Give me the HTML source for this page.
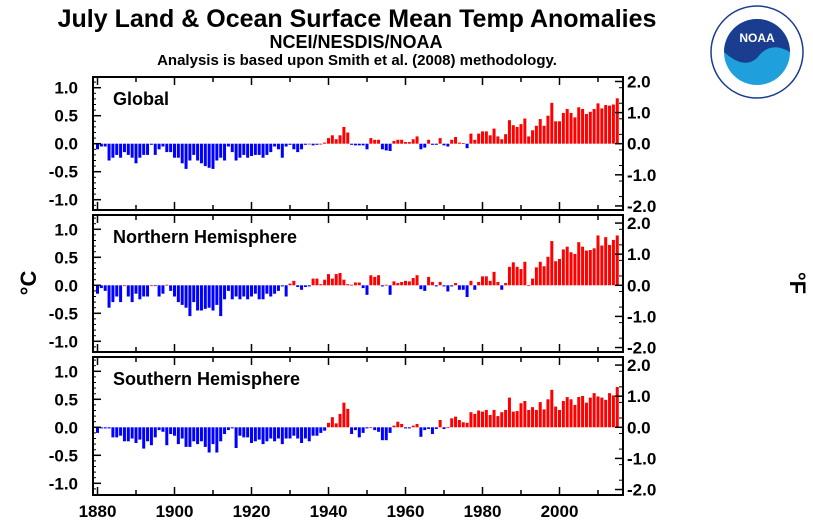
<!DOCTYPE html>
<html><head><meta charset="utf-8"><style>
body{margin:0;background:#fff;width:813px;height:525px;overflow:hidden}
svg{display:block;font-family:"Liberation Sans",sans-serif;font-weight:bold}
</style></head><body>
<svg id="chart" width="813" height="525">
<text x="357" y="27" font-size="25" text-anchor="middle">July Land &amp; Ocean Surface Mean Temp Anomalies</text>
<text x="356" y="48" font-size="18" text-anchor="middle">NCEI/NESDIS/NOAA</text>
<text x="357" y="65" font-size="15" text-anchor="middle">Analysis is based upon Smith et al. (2008) methodology.</text>
<text x="36" y="283" font-size="22" text-anchor="middle" transform="rotate(-90 36 283)">°C</text>
<text x="790" y="283" font-size="22" text-anchor="middle" transform="rotate(90 790 283)">°F</text>
<g>
<circle cx="757" cy="52" r="46" fill="#fff" stroke="#1a3d8f" stroke-width="1.5"/>
<circle cx="757" cy="52" r="33" fill="#1fa0dc"/>
<path d="M724,52 A33,33 0 0 1 790,52 Q770,40 757,58 Q744,70 724,52Z" fill="#1a3d8f"/>
<text x="757" y="42" font-size="12" fill="#fff" text-anchor="middle">NOAA</text>
</g>
<g id="panels"></g>
<g id="xlabels"></g>
</svg>
<script>
const years = [];
for (let y = 1880; y <= 2015; y++) years.push(y);
const globalVals = [-0.1,-0.05,-0.05,-0.3,-0.25,-0.2,-0.25,-0.15,-0.2,-0.25,
-0.35,-0.25,-0.2,-0.2,-0.02,-0.2,-0.1,-0.05,-0.15,-0.15,
-0.25,-0.25,-0.35,-0.45,-0.3,-0.2,-0.3,-0.35,-0.4,-0.43,
-0.45,-0.3,-0.25,-0.3,-0.05,-0.15,-0.3,-0.25,-0.2,-0.25,
-0.22,-0.2,-0.2,-0.25,-0.2,-0.15,-0.05,-0.1,-0.25,-0.05,
-0.02,-0.1,-0.15,-0.1,-0.02,0.0,-0.03,-0.02,
0.0,0.02,0.1,0.15,0.08,0.15,0.3,0.2,-0.02,-0.03,
-0.03,-0.03,-0.1,0.1,0.07,0.07,-0.1,-0.12,-0.13,0.05,
0.07,0.07,0.03,0.03,0.08,0.13,-0.1,-0.07,0.07,-0.02,
-0.02,0.1,-0.03,-0.05,0.07,0.12,0.02,0.01,-0.08,0.18,
0.07,0.18,0.22,0.22,0.15,0.27,0.13,0.08,0.17,0.42,
0.33,0.3,0.35,0.45,0.13,0.24,0.32,0.44,0.32,0.5,
0.73,0.4,0.4,0.55,0.62,0.55,0.47,0.65,0.62,0.53,
0.57,0.62,0.72,0.63,0.69,0.68,0.7,0.81];
const nhVals = [-0.15,-0.05,-0.1,-0.4,-0.3,-0.2,-0.3,0.0,-0.2,-0.3,
-0.15,-0.25,-0.2,-0.2,0.0,-0.01,-0.2,-0.15,0.01,-0.1,
-0.2,-0.3,-0.35,-0.4,-0.55,-0.3,-0.45,-0.45,-0.42,-0.4,
-0.45,-0.35,-0.55,-0.25,-0.1,-0.25,-0.2,-0.25,-0.2,-0.25,
-0.2,-0.15,-0.25,-0.25,-0.15,-0.2,-0.15,-0.1,-0.02,-0.2,
0.03,0.08,-0.03,-0.08,-0.03,-0.02,0.12,0.12,0.02,0.1,
0.2,0.12,0.2,0.22,0.1,0.02,0.01,0.05,
0.05,-0.05,-0.17,0.18,0.15,0.18,-0.02,0.01,-0.17,0.07,
0.04,0.06,0.08,0.07,0.13,0.18,-0.07,-0.1,0.15,0.06,
-0.02,0.06,-0.02,-0.11,-0.02,0.04,-0.08,-0.08,-0.21,0.08,
-0.08,0.06,0.16,0.16,0.08,0.24,0.06,-0.08,0.04,0.33,
0.41,0.33,0.29,0.42,0.0,0.12,0.32,0.42,0.34,0.51,
0.79,0.43,0.47,0.64,0.69,0.59,0.56,0.77,0.69,0.62,
0.63,0.66,0.89,0.71,0.86,0.72,0.81,0.89];
const shVals = [-0.1,-0.02,-0.02,-0.02,-0.18,-0.18,-0.15,-0.25,-0.25,-0.2,
-0.28,-0.22,-0.38,-0.25,-0.32,-0.18,-0.05,-0.08,-0.32,-0.12,
-0.15,-0.3,-0.2,-0.35,-0.35,-0.25,-0.3,-0.25,-0.35,-0.45,
-0.3,-0.45,-0.25,-0.12,-0.05,-0.02,-0.37,-0.15,-0.18,-0.18,
-0.28,-0.25,-0.22,-0.3,-0.25,-0.2,-0.25,-0.2,-0.3,-0.2,
-0.2,-0.15,-0.2,-0.28,-0.2,-0.25,-0.15,-0.15,-0.1,-0.06,
0.08,0.18,0.07,0.24,0.44,0.33,-0.12,-0.05,
-0.18,-0.1,-0.02,0.0,-0.05,-0.08,-0.23,-0.23,-0.1,0.03,
0.1,0.06,-0.02,-0.02,0.03,0.06,-0.17,-0.05,-0.03,-0.12,
-0.03,0.13,-0.03,0.0,0.16,0.19,0.13,0.09,0.08,0.27,
0.24,0.3,0.28,0.31,0.22,0.31,0.2,0.27,0.31,0.53,
0.28,0.29,0.43,0.47,0.31,0.36,0.31,0.45,0.32,0.5,
0.67,0.37,0.31,0.47,0.54,0.5,0.4,0.54,0.56,0.44,
0.53,0.61,0.55,0.53,0.49,0.61,0.57,0.72];
const panelTitles = ["Global","Northern Hemisphere","Southern Hemisphere"];
const cTicks = [1.0,0.5,0.0,-0.5,-1.0];
const fTicks = [2.0,1.0,0.0,-1.0,-2.0];
const xTickLabels = [1880,1900,1920,1940,1960,1980,2000];

const NS="http://www.w3.org/2000/svg";
const L=93,R=623,PX=56;
const panels=[{top:77,bottom:210,zero:143.7},{top:215,bottom:352,zero:285.3},{top:357,bottom:495,zero:427.3}];
const series=[globalVals,nhVals,shVals];
const xs=y=>96+(y-1880)*3.85;
function mk(t,a,p){const e=document.createElementNS(NS,t);for(const k in a)e.setAttribute(k,a[k]);(p||document.getElementById('panels')).appendChild(e);return e;}
panels.forEach((p,pi)=>{
  const ys=v=>p.zero-v*PX;
  const g=mk('g',{});
  
  
  const vals=series[pi];
  vals.forEach((v,i)=>{
    const yr=years[i];const y0=ys(0),y1=ys(v);
    const r=mk('rect',{x:xs(yr),y:Math.min(y0,y1),width:3,height:Math.max(0.8,Math.abs(y1-y0)),fill:v>=0?'#ff0000':'#0000ff'},g);
    
    
  });
  const fr=mk('rect',{x:L,y:p.top,width:R-L,height:p.bottom-p.top,fill:'none',stroke:'#000','stroke-width':2},g);
  
  
  for(let v=-1.2;v<=1.21;v+=0.1){const y=ys(v);if(y<p.top||y>p.bottom)continue;
    mk('line',{x1:L,x2:L+3,y1:y,y2:y,stroke:'#000','stroke-width':1},g);}
  cTicks.forEach(v=>{const y=ys(v);mk('line',{x1:L,x2:L+8,y1:y,y2:y,stroke:'#000','stroke-width':1.5},g);
    const t=mk('text',{x:78,y:y+6,'font-size':17,'text-anchor':'end'},g);t.textContent=v.toFixed(1);
    
    });
  fTicks.forEach(f=>{const y=ys(f*5/9);mk('line',{x1:R-8,x2:R,y1:y,y2:y,stroke:'#000','stroke-width':1.5},g);
    const t=mk('text',{x:627,y:y+6,'font-size':17},g);t.textContent=f.toFixed(1);
    
    });
  for(let f=-2.2;f<=2.21;f+=0.5){const y=ys(f*5/9);if(y<p.top||y>p.bottom)continue;mk('line',{x1:R-4,x2:R,y1:y,y2:y,stroke:'#000'},g);}
  for(let yr=1880;yr<=2015;yr+=10){const x=xs(yr)+1.5;const len=yr%20==0?8:5;
    mk('line',{x1:x,x2:x,y1:p.top,y2:p.top+len,stroke:'#000','stroke-width':1.5},g);
    mk('line',{x1:x,x2:x,y1:p.bottom-len,y2:p.bottom,stroke:'#000','stroke-width':1.5},g);}
  const tt=mk('text',{x:113,y:p.top+28,'font-size':18},g);tt.textContent=panelTitles[pi];
  
  
});
xTickLabels.forEach(yr=>{const t=mk('text',{x:xs(yr)+1.5,y:517,'font-size':17,'text-anchor':'middle'},document.getElementById('xlabels'));t.textContent=yr;
  
  });
</script>
</body></html>
